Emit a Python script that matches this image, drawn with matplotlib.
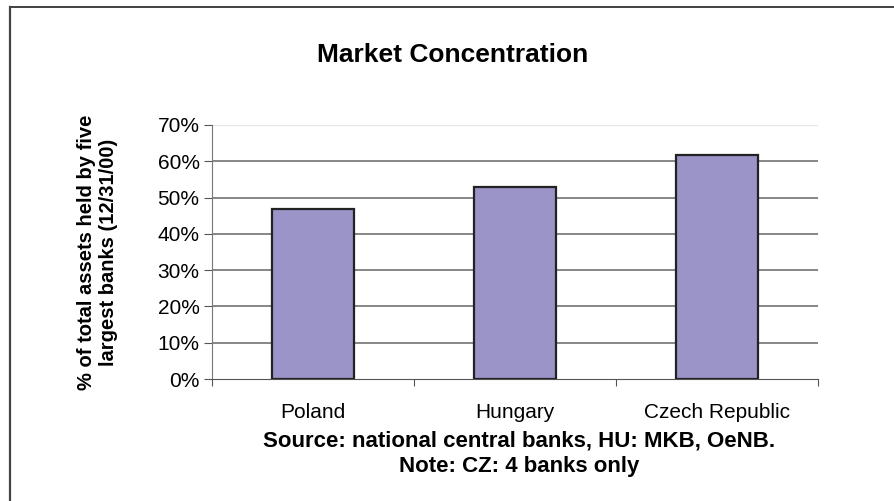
import matplotlib
matplotlib.use("Agg")
import matplotlib.pyplot as plt
from matplotlib.lines import Line2D
import numpy as np

countries = ["Poland", "Hungary", "Czech Republic"]
share = [46.9, 52.9, 61.7]
yticks = [0, 10, 20, 30, 40, 50, 60, 70]

plt.rcParams['font.family'] = ['Liberation Sans', 'DejaVu Sans']

fig = plt.figure(figsize=(8.95, 5.01), dpi=100)
ax = fig.add_axes([0.2369, 0.2435, 0.6771, 0.507])

x = np.arange(len(countries))
ax.bar(x, share, width=0.41, color='#9b94c8', edgecolor='#222222',
       linewidth=1.6, zorder=3)

ax.set_xlim(-0.5, len(countries) - 0.5)
ax.set_ylim(0, 70)
ax.set_yticks(yticks)
ax.set_yticklabels([f"{v}%" for v in yticks], fontsize=15)
for v in yticks[1:-1]:
    ax.axhline(v, color='#666666', linewidth=1.1, zorder=1)
ax.axhline(70, color='#e6e6e6', linewidth=1.0, zorder=1)

# category boundaries as x ticks, names in between
ax.set_xticks(np.arange(len(countries) + 1) - 0.5, minor=False)
ax.set_xticklabels([])
ax.set_xticks(x, minor=True)
ax.set_xticklabels(countries, minor=True, fontsize=15)
ax.tick_params(axis='x', which='minor', length=0, pad=17)
ax.tick_params(axis='x', which='major', length=5, color='#555555', direction='out')
ax.tick_params(axis='y', length=6, color='#555555', pad=3)

for s in ['top', 'right']:
    ax.spines[s].set_visible(False)
ax.spines['left'].set_color('#777777')
ax.spines['bottom'].set_color('#555555')

ax.text(-0.189, 0.5, "% of total assets held by five\nlargest banks (12/31/00)",
        transform=ax.transAxes, rotation=90, ha='center', va='center',
        fontsize=14.5, fontweight='bold', linespacing=1.15)

fig.text(0.506, 0.89, "Market Concentration", ha='center', va='center',
         fontsize=19, fontweight='bold')
fig.text(0.58, 1 - 447 / 501, "Source: national central banks, HU: MKB, OeNB.",
         ha='center', va='baseline', fontsize=16, fontweight='bold')
fig.text(0.58, 1 - 472 / 501, "Note: CZ: 4 banks only",
         ha='center', va='baseline', fontsize=16, fontweight='bold')

# outer frame (top and left edges only visible)
fig.add_artist(Line2D([10 / 895, 1.0], [1 - 7 / 501, 1 - 7 / 501],
                      transform=fig.transFigure, color='#222222', linewidth=1.2))
fig.add_artist(Line2D([10 / 895, 10 / 895], [0, 1 - 7 / 501],
                      transform=fig.transFigure, color='#444444', linewidth=1.6))

fig.savefig("out.png", dpi=100)
plt.close()
